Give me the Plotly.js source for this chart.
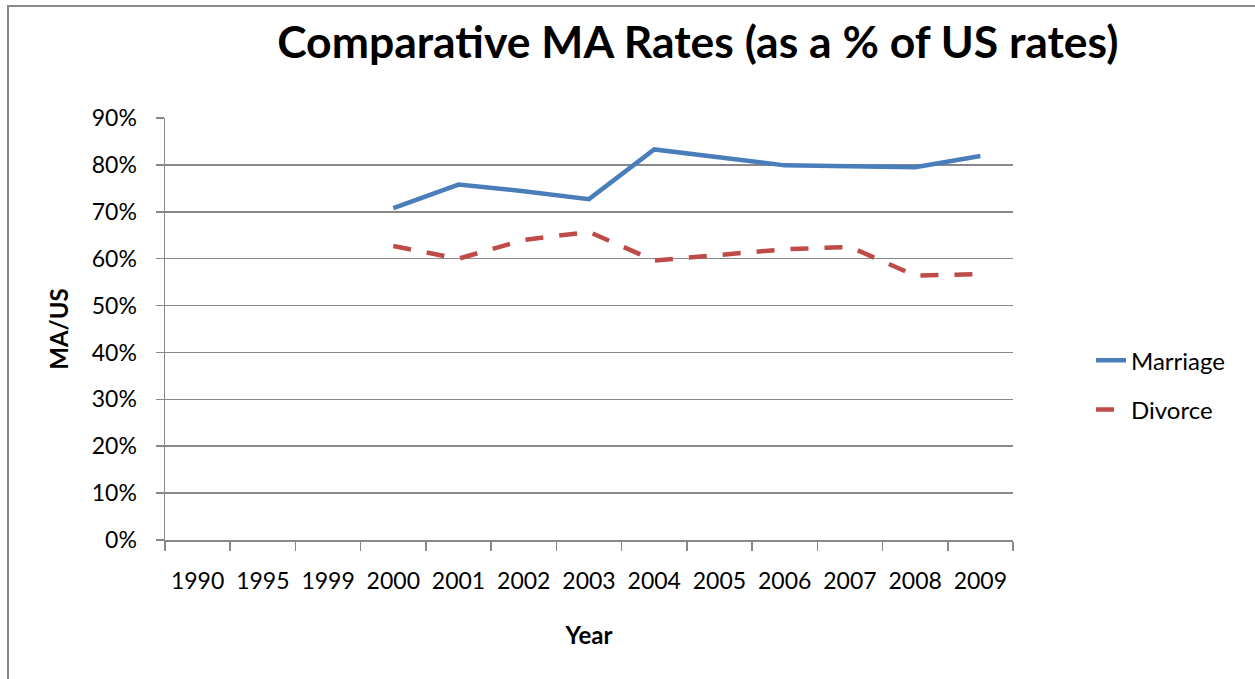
<!DOCTYPE html>
<html>
<head>
<meta charset="utf-8">
<script src="https://cdn.plot.ly/plotly-3.0.1.min.js"></script>
<style>
html,body{margin:0;padding:0;background:#fff;}
#wrap{position:absolute;left:0;top:0;width:1255px;height:679px;}
#frame{position:absolute;left:7px;top:5px;width:1260px;height:700px;border-left:2px solid #888;border-top:2px solid #888;pointer-events:none;z-index:5;}
#chart{position:absolute;left:0;top:0;width:1255px;height:679px;}
</style>
</head>
<body>
<div id="wrap"><div id="chart"></div><div id="frame"></div></div>
<script>
const years = ['1990','1995','1999','2000','2001','2002','2003','2004','2005','2006','2007','2008','2009'];
const marriage = [null,null,null,0.708,0.758,0.744,0.727,0.833,0.816,0.799,0.797,0.795,0.819];
const divorce = [null,null,null,0.627,0.600,0.640,0.657,0.596,0.608,0.620,0.625,0.564,0.567];
const yTicks = [0,0.1,0.2,0.3,0.4,0.5,0.6,0.7,0.8,0.9];

const font = '"Lato", "Open Sans", sans-serif';

const traces = [
  {x: years, y: marriage, name: 'Marriage', type: 'scatter', mode: 'lines', legendgroup: 'm',
   line: {color: '#4A7EBB', width: 4.5}, connectgaps: false},
  {x: years, y: divorce, name: 'Divorce', type: 'scatter', mode: 'lines', legendgroup: 'd',
   line: {color: '#BE4B48', width: 4.5, dash: '18px,16px'}, connectgaps: false}
];

const layout = {
  width: 1255, height: 679,
  margin: {l: 165, r: 242, t: 118, b: 139},
  paper_bgcolor: '#fff', plot_bgcolor: '#fff',
  font: {family: font, color: '#000', size: 23},
  title: {text: '<b>Comparative MA Rates (as a % of US rates)</b>', x: 0.556, xanchor: 'center', y: 0.938, yanchor: 'middle',
          font: {size: 44.5, family: font, color: '#000'}},
  xaxis: {
    type: 'category', categoryorder: 'array', categoryarray: years,
    range: [-0.5, 12.5], tickson: 'boundaries', ticks: 'outside', ticklen: 9, tickcolor: '#888', tickwidth: 1.5,
    showline: true, linecolor: '#888', linewidth: 1.5, showgrid: false, zeroline: false,
    ticklabelstandoff: 20,
    tickfont: {size: 23, family: font, color: '#000'},
    title: {text: '<b>Year</b>', font: {size: 24, family: font, color: '#000'}, standoff: 34}
  },
  yaxis: {
    range: [0, 0.9], tickvals: yTicks, tickformat: '.0%',
    ticks: 'outside', ticklen: 8, tickcolor: '#888', tickwidth: 1.5,
    showline: true, linecolor: '#888', linewidth: 1.5,
    showgrid: true, gridcolor: '#888', gridwidth: 1.5, zeroline: false,
    ticklabelstandoff: 14,
    tickfont: {size: 23, family: font, color: '#000'},
    title: {text: '<b>MA/US</b>', font: {size: 24, family: font, color: '#000'}, standoff: 16}
  },
  showlegend: true,
  legend: {x: 1.092, xanchor: 'left', y: 0.367, yanchor: 'middle', font: {size: 24, family: font, color: '#000'},
           tracegroupgap: 15, bgcolor: 'rgba(0,0,0,0)', traceorder: 'grouped'}
};

Plotly.newPlot('chart', traces, layout, {displayModeBar: false, staticPlot: true});
</script>
</body>
</html>
